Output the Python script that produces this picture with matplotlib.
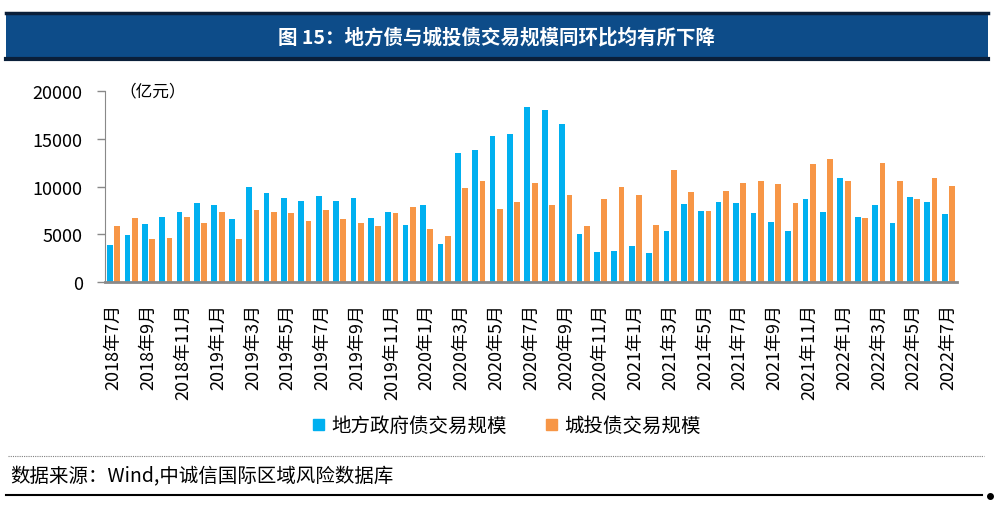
import numpy as np
import matplotlib
matplotlib.use("Agg")
import matplotlib.pyplot as plt
from matplotlib.patches import Rectangle, Patch
from matplotlib.lines import Line2D

plt.rcParams['font.family'] = ['Noto Sans CJK SC', 'DejaVu Sans']

# months 2018-07 .. 2022-07
months = []
for y in range(2018, 2023):
    for m in range(1, 13):
        if (y == 2018 and m < 7) or (y == 2022 and m > 7):
            continue
        months.append(f"{y}年{m}月")

# 地方政府债交易规模 (亿元)
local_gov = [3850, 4950, 6100, 6760, 7290, 8230, 8030, 6600, 9990,
             9320, 8800, 8450, 8970, 8440, 8800, 6650, 7360, 5950,
             8020, 3960, 13560, 13870, 15240, 15550, 18350, 17970,
             16570, 5050, 3190, 3230, 3750, 3010, 5330, 8160, 7460,
             8340, 8300, 7180, 6310, 5360, 8690, 7320, 10900, 6830,
             8090, 6170, 8930, 8370, 7110]
# 城投债交易规模 (亿元)
chengtou = [5820, 6690, 4470, 4570, 6760, 6210, 7290, 4500, 7540,
            7370, 7220, 6380, 7560, 6620, 6130, 5890, 7230, 7880,
            5500, 4800, 9810, 10620, 7640, 8370, 10410, 8090,
            9070, 5820, 8650, 9990, 9140, 5990, 11770, 9460, 7460,
            9530, 10370, 10620, 10270, 8270, 12400, 12920, 10550, 6730,
            12440, 10620, 8720, 10900, 10090]

yticks = [0, 5000, 10000, 15000, 20000]

blue = '#00B0F0'
orange = '#F79646'
banner = '#0D4C89'

fig = plt.figure(figsize=(9.94, 5.10), dpi=100)

# title banner
fig.patches.append(Rectangle((0.006, 0.882), 0.988, 0.090, transform=fig.transFigure,
                             facecolor=banner, edgecolor='none'))
fig.add_artist(Line2D([0.006, 0.994], [0.972, 0.972], color='#0a1f3a', lw=2.5))
fig.add_artist(Line2D([0.006, 0.994], [0.883, 0.883], color='#0a1f3a', lw=3))
fig.text(0.5, 0.926, '图 15：地方债与城投债交易规模同环比均有所下降', color='white',
         fontsize=14, fontweight='bold', ha='center', va='center')

ax = fig.add_axes([0.1056, 0.4451, 0.8572, 0.3745])
x = np.arange(len(months))
w = 0.33
ax.bar(x - 0.21, local_gov, width=w, color=blue, label='地方政府债交易规模')
ax.bar(x + 0.21, chengtou, width=w, color=orange, label='城投债交易规模')

ax.set_xlim(-0.5, len(months) - 0.5)
ax.set_ylim(0, 20000)
ax.set_yticks(yticks)
ax.set_yticklabels([str(v) for v in yticks], fontsize=13)
ax.set_xticks(x[::2])
ax.set_xticklabels(months[::2], rotation=90, fontsize=13, va='top', ha='center')
ax.tick_params(axis='x', length=0, pad=15)
ax.tick_params(axis='y', length=6, width=1, color='#898989', direction='out', pad=10)
for s in ['top', 'right']:
    ax.spines[s].set_visible(False)
ax.spines['left'].set_color('#898989')
ax.spines['bottom'].set_color('#898989')
ax.spines['bottom'].set_linewidth(2)
ax.text(0.017, 1.0, '（亿元）', transform=ax.transAxes, fontsize=12, ha='left', va='center')

handles = [Patch(color=blue), Patch(color=orange)]
fig.legend(handles, ['地方政府债交易规模', '城投债交易规模'], loc='center',
           bbox_to_anchor=(0.51, 0.163), ncol=2, frameon=False, fontsize=14,
           handlelength=0.55, handleheight=0.55, handletextpad=0.4, columnspacing=2.0)

# source note and rules
fig.add_artist(Line2D([0.008, 0.99], [0.104, 0.104], color='#808080', lw=0.8, ls=(0, (1, 1))))
fig.text(0.01, 0.066, '数据来源：Wind,中诚信国际区域风险数据库', fontsize=14, ha='left', va='center')
fig.add_artist(Line2D([0.006, 0.988], [0.027, 0.027], color='black', lw=1.5))
fig.add_artist(Line2D([0.996], [0.025], marker='o', color='black', markersize=4))

fig.savefig('out.png', dpi=100)
